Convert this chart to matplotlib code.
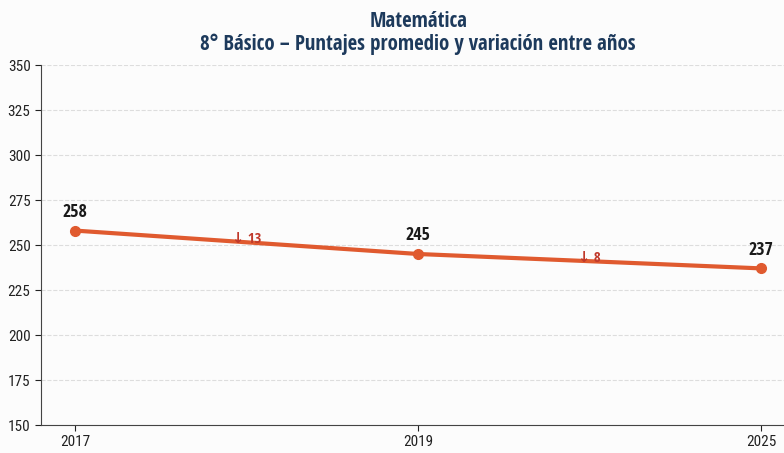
import matplotlib
matplotlib.use("Agg")
import matplotlib.pyplot as plt

# data
years = ["2017", "2019", "2025"]
scores = [258, 245, 237]
deltas = [-13, -8]

LINE_COLOR = "#e05a2f"
TITLE_COLOR = "#1d3a5c"
DELTA_COLOR = "#c0392b"

BOLD_FONT = ["Open Sans Condensed", "DejaVu Sans"]
TICK_FONT = ["Roboto Condensed", "DejaVu Sans"]

fig = plt.figure(figsize=(7.84, 4.53), dpi=100, facecolor="#fcfcfc")
ax = fig.add_axes([0.0523, 0.0618, 0.9625, 0.7947])
ax.set_facecolor("#fcfcfc")

x = list(range(len(years)))
ax.plot(x, scores, color=LINE_COLOR, lw=3, marker="o", ms=7, zorder=3)

for xi, s in zip(x, scores):
    ax.annotate(str(s), (xi, s), xytext=(0, 7), textcoords="offset points",
                ha="center", va="bottom", fontsize=13, fontweight="bold",
                family=BOLD_FONT, color="#1a1a1a")

for i, d in enumerate(deltas):
    mid = (scores[i] + scores[i + 1]) / 2
    arrow = "↓" if d < 0 else "↑"
    ax.annotate(f"{arrow} {abs(d)}", (i + 0.5, mid), xytext=(0, -3), textcoords="offset points",
                ha="center", va="bottom", fontsize=10.5, fontweight="bold",
                family=BOLD_FONT, color=DELTA_COLOR)

ax.set_xticks(x)
ax.set_xticklabels(years)
ax.set_xlim(-0.1, 2.1)
ax.set_ylim(150, 350)
ax.set_yticks(range(150, 351, 25))
ax.tick_params(labelsize=11, colors="#222222", length=4)
for lab in ax.get_xticklabels() + ax.get_yticklabels():
    lab.set_family(TICK_FONT)
ax.grid(axis="y", ls="--", color="#dddddd", lw=0.8)
ax.set_axisbelow(True)
for side in ("top", "right"):
    ax.spines[side].set_visible(False)
for side in ("left", "bottom"):
    ax.spines[side].set_color("#444444")

ax.set_title("Matemática\n8° Básico – Puntajes promedio y variación entre años",
             fontsize=15, fontweight="bold", color=TITLE_COLOR, pad=11, x=0.5,
             family=BOLD_FONT, linespacing=1.1)

fig.savefig("out.png", dpi=100, facecolor=fig.get_facecolor())
